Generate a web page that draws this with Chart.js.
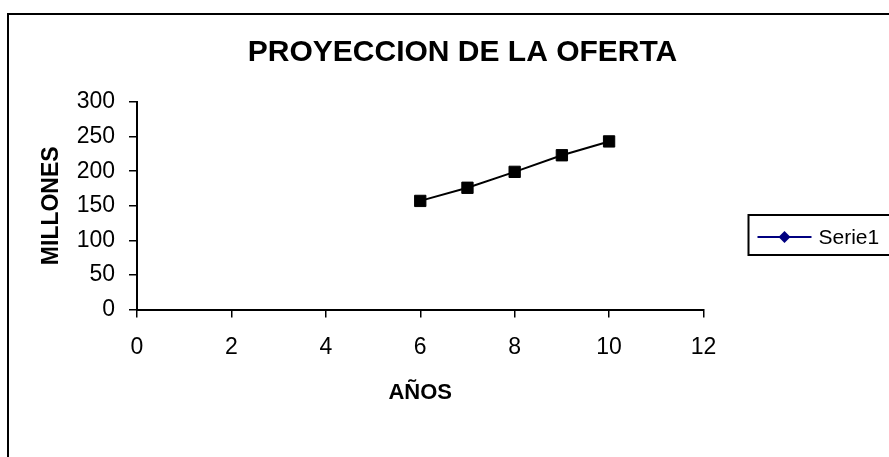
<!DOCTYPE html>
<html>
<head>
<meta charset="utf-8">
<script src="https://cdn.jsdelivr.net/npm/chart.js@4/dist/chart.umd.min.js"></script>
<style>
  html, body { margin: 0; padding: 0; background: #fff; }
  #wrap { width: 889px; height: 457px; }
</style>
</head>
<body>
<div id="wrap"><canvas id="c" width="889" height="457"></canvas></div>
<script>
// Texts
const chartTitle = 'PROYECCION DE LA OFERTA';
const xTitle = 'AÑOS';
const yTitle = 'MILLONES';
const seriesName = 'Serie1';

// Series: supply projection per year (millions)
const years = [6, 7, 8, 9, 10];
const millones = [157, 176, 199, 223, 243];

// Tick values
const xTicks = [0, 2, 4, 6, 8, 10, 12];
const yTicks = [0, 50, 100, 150, 200, 250, 300];

const FONT = "'Liberation Sans', Arial, sans-serif";

// Outer frame around the whole chart
const framePlugin = {
  id: 'frame',
  beforeDraw(chart) {
    const ctx = chart.ctx;
    ctx.save();
    ctx.fillStyle = '#fff';
    ctx.fillRect(0, 0, chart.width, chart.height);
    ctx.strokeStyle = '#000';
    ctx.lineWidth = 2;
    ctx.strokeRect(8, 14, chart.width + 50, chart.height + 50);
    ctx.restore();
  }
};

// Boxed legend: navy line with a diamond marker, then the series name
const boxLegendPlugin = {
  id: 'boxLegend',
  afterDraw(chart) {
    const ctx = chart.ctx;
    const ds = chart.data.datasets[0];
    const left = chart.chartArea.right + 45;
    const top = 215;
    const cy = 237;
    ctx.save();
    ctx.strokeStyle = '#000';
    ctx.lineWidth = 2;
    ctx.strokeRect(left, top, 300, 40);
    ctx.strokeStyle = '#000080';
    ctx.lineWidth = 2;
    ctx.beginPath();
    ctx.moveTo(left + 9, cy);
    ctx.lineTo(left + 63, cy);
    ctx.stroke();
    ctx.fillStyle = '#000080';
    const mx = left + 36, h = 6;
    ctx.beginPath();
    ctx.moveTo(mx, cy - h);
    ctx.lineTo(mx + h, cy);
    ctx.lineTo(mx, cy + h);
    ctx.lineTo(mx - h, cy);
    ctx.closePath();
    ctx.fill();
    ctx.fillStyle = '#000';
    ctx.font = '21px ' + FONT;
    ctx.textBaseline = 'middle';
    ctx.textAlign = 'left';
    ctx.fillText(ds.label, left + 70, cy + 1);
    ctx.restore();
  }
};

const axisCommon = {
  grid: { drawOnChartArea: false, drawTicks: true, tickLength: 8, color: '#000', lineWidth: 1.5 },
  border: { display: true, color: '#000', width: 2 },
};

new Chart(document.getElementById('c'), {
  type: 'line',
  data: {
    datasets: [{
      label: seriesName,
      data: years.map((x, i) => ({ x: x, y: millones[i] })),
      borderColor: '#000',
      borderWidth: 2,
      backgroundColor: '#000',
      pointStyle: 'rect',
      pointRadius: 8,
      pointHoverRadius: 8,
      pointBackgroundColor: '#000',
      pointBorderColor: '#000',
      pointBorderWidth: 1,
      fill: false,
      tension: 0,
      yAxisID: 'y'
    }]
  },
  options: {
    responsive: false,
    animation: false,
    devicePixelRatio: 1,
    layout: { padding: { left: 36, top: 20, right: 0, bottom: 0 } },
    plugins: {
      legend: { display: false },
      tooltip: { enabled: false },
      title: {
        display: true,
        text: chartTitle,
        color: '#000',
        font: { family: FONT, size: 30, weight: 'bold' },
        padding: { top: 15, bottom: 31 }
      }
    },
    scales: {
      x: {
        type: 'linear',
        position: 'bottom',
        min: 0,
        max: 12,
        afterBuildTicks(s) { s.ticks = xTicks.map(v => ({ value: v })); },
        afterFit(s) { s.height = 147.5; },
        ticks: { color: '#000', font: { family: FONT, size: 23 }, padding: 16, maxRotation: 0 },
        title: {
          display: true, text: xTitle, color: '#000',
          font: { family: FONT, size: 22, weight: 'bold' },
          padding: { top: 0, bottom: 51 }
        },
        ...axisCommon
      },
      y: {
        type: 'linear',
        position: 'left',
        min: 0,
        max: 300,
        afterBuildTicks(s) { s.ticks = yTicks.map(v => ({ value: v })); },
        afterFit(s) { s.width = 101; },
        ticks: { color: '#000', font: { family: FONT, size: 23 }, padding: 14 },
        title: {
          display: true, text: yTitle, color: '#000',
          font: { family: FONT, size: 23, weight: 'bold' },
          padding: { top: 2, bottom: 0 }
        },
        ...axisCommon
      },
      // empty band on the right that holds the boxed legend
      legendBand: {
        type: 'linear',
        position: 'right',
        display: true,
        grid: { display: false, drawTicks: false },
        border: { display: false },
        ticks: { display: false },
        afterFit(s) { s.width = 185.5; }
      }
    }
  },
  plugins: [framePlugin, boxLegendPlugin]
});
</script>
</body>
</html>
